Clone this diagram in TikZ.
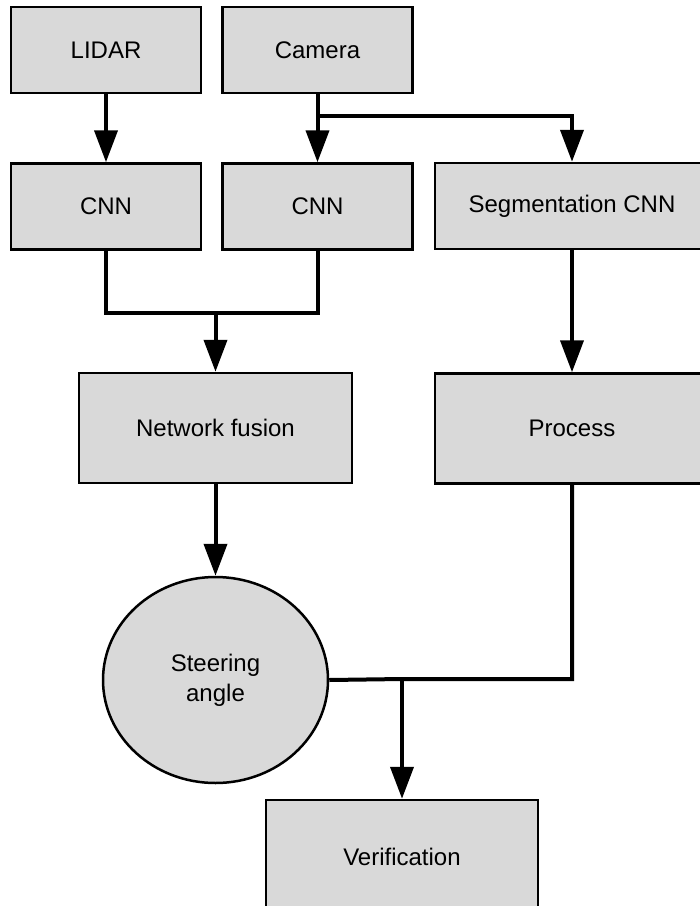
\documentclass[tikz,border=0pt]{standalone}
\usepackage{fontspec}
\setmainfont{Liberation Sans}
\usetikzlibrary{arrows.meta,shapes.geometric}
\definecolor{boxgray}{HTML}{D9D9D9}
\tikzset{
    block/.style={draw, line width=2.5pt, fill=boxgray, minimum width=190pt, minimum height=86pt,
        inner sep=0pt, font=\fontsize{24}{30}\selectfont},
    wideblock/.style={block, minimum width=273pt, minimum height=110pt},
    flow/.style={line width=4pt, line join=miter},
    arrowflow/.style={flow, -{Triangle[length=32pt,width=23pt]}}
}
\begin{document}
\begin{tikzpicture}[x=1pt, y=-1pt]
    \useasboundingbox (0,0) rectangle (700,906);
    \clip (0,0) rectangle (700,906);
    \node[block] (lidar) at (106,50) {LIDAR};
    \node[block] (camera) at (317.5,50) {Camera};
    \node[block] (cnnlidar) at (106,206.5) {CNN};
    \node[block] (cnncamera) at (317.5,206.5) {CNN};
    \node[wideblock, minimum height=86pt, minimum width=274pt] (segcnn) at (572,206) {Segmentation CNN};
    \node[wideblock] (fusion) at (215.5,428) {Network fusion};
    \node[wideblock, minimum width=274pt] (process) at (572,428.5) {Process};
    \node[block, ellipse, minimum width=225pt, minimum height=206pt, align=center] (steer) at (215.5,680) {Steering\\angle};
    \node[wideblock, minimum width=272pt, minimum height=114pt] (verif) at (402,857) {Verification};
    \coordinate (camsplit) at (317.5,116);
    \coordinate (cnnmerge) at (215.5,313);
    \coordinate (steermerge) at (402,679);
    \draw[arrowflow] (lidar.south) -- (cnnlidar.north);
    \draw[arrowflow] (camera.south) -- (cnncamera.north);
    \draw[arrowflow] (camsplit) -| (segcnn.north);
    \draw[flow] (cnnlidar.south) |- (cnnmerge) -| (cnncamera.south);
    \draw[arrowflow] (cnnmerge) -- (fusion.north);
    \draw[arrowflow] (segcnn.south) -- (process.north);
    \draw[arrowflow] (fusion.south) -- (steer.north);
    \draw[flow] (process.south) |- (steermerge) -- (steer.east);
    \draw[arrowflow] (steermerge) -- (verif.north);
\end{tikzpicture}
\end{document}
